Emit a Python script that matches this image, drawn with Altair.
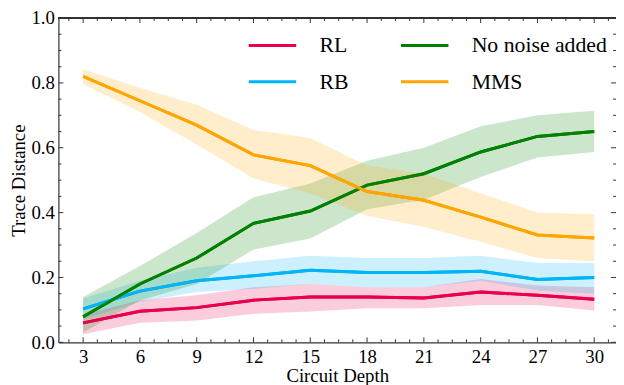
import altair as alt
import pandas as pd

depth = [3, 6, 9, 12, 15, 18, 21, 24, 27, 30]
series_names = ["RL", "RB", "No noise added", "MMS"]
series_colors = ["#E8004F", "#00B4F5", "#008000", "#FFA500"]

rl = [0.060, 0.096, 0.107, 0.130, 0.140, 0.140, 0.137, 0.155, 0.145, 0.133]
rl_lo = [0.025, 0.060, 0.067, 0.088, 0.095, 0.105, 0.105, 0.115, 0.115, 0.098]
rl_hi = [0.085, 0.130, 0.145, 0.170, 0.180, 0.170, 0.170, 0.195, 0.175, 0.170]

rb = [0.103, 0.158, 0.190, 0.205, 0.222, 0.215, 0.215, 0.219, 0.194, 0.200]
rb_lo = [0.070, 0.125, 0.155, 0.165, 0.180, 0.170, 0.170, 0.190, 0.160, 0.150]
rb_hi = [0.135, 0.190, 0.230, 0.250, 0.267, 0.260, 0.260, 0.267, 0.245, 0.245]

nn = [0.079, 0.180, 0.260, 0.367, 0.405, 0.485, 0.520, 0.587, 0.635, 0.650]
nn_lo = [0.030, 0.130, 0.180, 0.286, 0.320, 0.410, 0.440, 0.510, 0.570, 0.587]
nn_hi = [0.140, 0.235, 0.337, 0.447, 0.490, 0.560, 0.600, 0.666, 0.700, 0.714]

mms = [0.820, 0.745, 0.670, 0.578, 0.545, 0.465, 0.438, 0.386, 0.331, 0.322]
mms_lo = [0.797, 0.710, 0.610, 0.505, 0.460, 0.390, 0.356, 0.310, 0.260, 0.250]
mms_hi = [0.842, 0.785, 0.733, 0.655, 0.630, 0.545, 0.520, 0.460, 0.400, 0.395]

y_ticks = [0.0, 0.2, 0.4, 0.6, 0.8, 1.0]
x_minor = [2.25 + 0.75 * i for i in range(40) if (i % 4) != 1 and 2.25 + 0.75 * i <= 31.1]
y_minor = [0.05 * i for i in range(21) if i % 4 != 0]

W, H = 564, 328
XDOM = [1.695, 31.15]
FONT = "Liberation Serif"

rows = []
for name, m, lo, hi in [("RL", rl, rl_lo, rl_hi), ("RB", rb, rb_lo, rb_hi),
                        ("No noise added", nn, nn_lo, nn_hi), ("MMS", mms, mms_lo, mms_hi)]:
    for d, v, a, b in zip(depth, m, lo, hi):
        rows.append({"depth": d, "series": name, "mean": v, "lo": a, "hi": b})
df = pd.DataFrame(rows)

xs = alt.Scale(domain=XDOM, nice=False, zero=False)
ys = alt.Scale(domain=[0, 1], nice=False, zero=False)
cs = alt.Scale(domain=series_names, range=series_colors)

legend = alt.Legend(title=None, orient="none", legendX=191, legendY=2,
                    columns=2, symbolType="stroke", symbolSize=2304,
                    symbolStrokeWidth=3, labelOffset=22, columnPadding=46,
                    rowPadding=-4, labelFontSize=22, labelFont=FONT,
                    labelColor="black", padding=0, symbolOpacity=1)

base = alt.Chart(df)

lines = base.mark_line(strokeWidth=3).encode(
    x=alt.X("depth:Q", scale=xs,
            axis=alt.Axis(values=depth, title="Circuit Depth", ticks=False, grid=False,
                          labelPadding=5, titlePadding=1)),
    y=alt.Y("mean:Q", scale=ys,
            axis=alt.Axis(values=y_ticks, format=".1f", title="Trace Distance", ticks=False,
                          grid=False, labelPadding=4, titlePadding=3)),
    color=alt.Color("series:N", scale=cs, sort=series_names, legend=legend),
)

bands = base.mark_area(opacity=0.2).encode(
    x=alt.X("depth:Q", scale=xs),
    y=alt.Y("lo:Q", scale=ys),
    y2="hi:Q",
    color=alt.Color("series:N", scale=cs, sort=series_names, legend=legend),
)

tdf_xmaj = pd.DataFrame({"v": depth})
tdf_xmin = pd.DataFrame({"v": x_minor})
tdf_ymaj = pd.DataFrame({"v": y_ticks})
tdf_ymin = pd.DataFrame({"v": y_minor})
tick_color = "#333333"

def xticks(d, y0, y1):
    return alt.Chart(d).mark_rule(color=tick_color, strokeWidth=1).encode(
        x=alt.X("v:Q", scale=xs), y=alt.value(y0), y2=alt.value(y1))

def yticks(d, x0, x1):
    return alt.Chart(d).mark_rule(color=tick_color, strokeWidth=1).encode(
        y=alt.Y("v:Q", scale=ys), x=alt.value(x0), x2=alt.value(x1))

ticks = [
    xticks(tdf_xmaj, H, H - 5), xticks(tdf_xmin, H, H - 3),
    xticks(tdf_xmaj, 0, 5), xticks(tdf_xmin, 0, 3),
    yticks(tdf_ymaj, 0, 5), yticks(tdf_ymin, 0, 3),
    yticks(tdf_ymaj, W, W - 5), yticks(tdf_ymin, W, W - 3),
]

top_spine = alt.Chart(tdf_xmaj).mark_rule(color=tick_color, strokeWidth=1.2).encode(
    x=alt.value(0), x2=alt.value(W), y=alt.value(0))

chart = alt.layer(lines, bands, lines, *ticks, top_spine).properties(
    width=W, height=H,
    autosize=alt.AutoSizeParams(type="none"),
    padding={"left": 51, "top": 8, "right": 0, "bottom": 41},
).configure_view(stroke=None).configure_axis(
    labelFont=FONT, titleFont=FONT, labelFontSize=19, titleFontSize=19,
    labelColor="black", titleColor="black", titleFontWeight="normal",
    domainColor=tick_color, domainWidth=1.2,
)

chart.save("out.html", embed_options={"renderer": "svg", "actions": False})
